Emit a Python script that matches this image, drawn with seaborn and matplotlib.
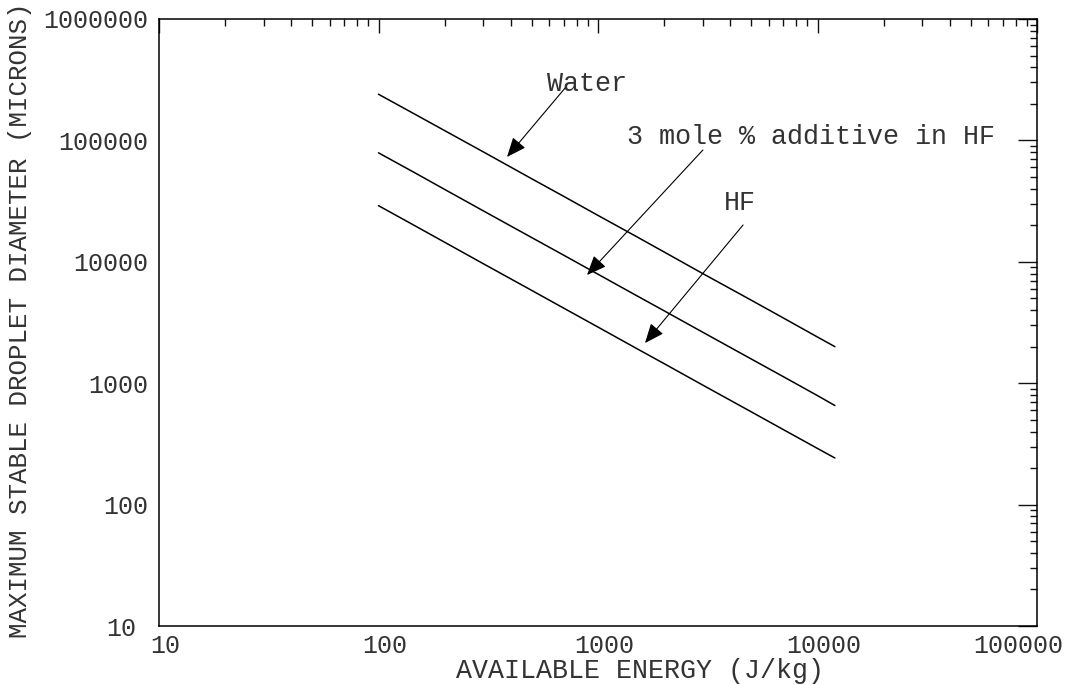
import numpy as np
import pandas as pd
import seaborn as sns
import matplotlib
matplotlib.use("Agg")
import matplotlib.pyplot as plt
from matplotlib.ticker import LogLocator, FixedLocator, NullFormatter
from matplotlib.transforms import ScaledTranslation

# Available energy (J/kg) and maximum stable droplet diameter (microns)
energy = [100, 150, 200, 300, 500, 700, 1000, 1500, 2000, 3000, 5000, 7000, 10000, 12000]
water = [240000, 160500, 120500, 80500, 48200, 34500, 24100, 16100, 12050, 8000, 4820, 3440, 2400, 2000]
additive = [79000, 52800, 39500, 26300, 15800, 11300, 7900, 5260, 3950, 2630, 1580, 1130, 790, 655]
hf = [29000, 19350, 14500, 9650, 5800, 4140, 2900, 1930, 1450, 965, 580, 414, 290, 242]

series_names = ["Water", "3 mole % additive in HF", "HF"]

x_ticks = [10, 100, 1000, 10000, 100000]
y_ticks = [10, 100, 1000, 10000, 100000, 1000000]
x_tick_labels = ["10", "100", "1000", "10000", "100000"]
y_tick_labels = ["10", "100", "1000", "10000", "100000", "1000000"]

df = pd.DataFrame({
    "energy": energy * 3,
    "diameter": water + additive + hf,
    "fluid": [series_names[0]] * len(energy) + [series_names[1]] * len(energy) + [series_names[2]] * len(energy),
})

sns.set_theme(style="white")
mono = ["Liberation Mono", "DejaVu Sans Mono"]
plt.rcParams["font.family"] = mono
plt.rcParams["text.color"] = "#333333"
plt.rcParams["axes.labelcolor"] = "#333333"
plt.rcParams["xtick.color"] = "#111111"
plt.rcParams["ytick.color"] = "#111111"
plt.rcParams["xtick.labelcolor"] = "#333333"
plt.rcParams["ytick.labelcolor"] = "#333333"

TICK_FS = 18.0
NOTE_FS = 19.3

fig = plt.figure(figsize=(10.70, 6.84), dpi=100)
ax = fig.add_axes([159 / 1070, 1 - 626 / 684, (1037 - 159) / 1070, (626 - 19) / 684])

sns.lineplot(data=df, x="energy", y="diameter", hue="fluid",
             palette=["black", "black", "black"], linewidth=1.1,
             legend=False, ax=ax, estimator=None, sort=True)

ax.set_xscale("log")
ax.set_yscale("log")
ax.set_xlim(10, 100000)
ax.set_ylim(10, 1000000)

for side in ["left", "right", "top", "bottom"]:
    ax.spines[side].set_visible(True)
    ax.spines[side].set_color("black")
    ax.spines[side].set_linewidth(1.1)

ax.xaxis.set_major_locator(FixedLocator(x_ticks))
ax.yaxis.set_major_locator(FixedLocator(y_ticks))
ax.set_xticklabels(x_tick_labels)
ax.set_yticklabels(y_tick_labels)
ax.xaxis.set_minor_locator(LogLocator(base=10, subs=np.arange(2, 10), numticks=20))
ax.yaxis.set_minor_locator(LogLocator(base=10, subs=np.arange(2, 10), numticks=20))
ax.xaxis.set_minor_formatter(NullFormatter())
ax.yaxis.set_minor_formatter(NullFormatter())

ax.tick_params(axis="both", which="both", direction="in", top=True, right=True,
               labelsize=TICK_FS, width=1.0)
ax.tick_params(axis="x", which="major", length=10, pad=5.5)
ax.tick_params(axis="y", which="major", length=14, pad=8)
ax.tick_params(axis="both", which="minor", length=5)

# x labels sit a little right of their ticks; the last one is pulled inside the figure
xl = ax.get_xticklabels()
for lab in xl[:-1]:
    lab.set_transform(lab.get_transform() + ScaledTranslation(6 / 100, 0, fig.dpi_scale_trans))
xl[-1].set_horizontalalignment("right")
xl[-1].set_transform(xl[-1].get_transform() + ScaledTranslation(26 / 100, 0, fig.dpi_scale_trans))
yl = ax.get_yticklabels()
yl[0].set_transform(yl[0].get_transform() + ScaledTranslation(-12 / 100, 0, fig.dpi_scale_trans))

ax.set_xlabel("AVAILABLE ENERGY (J/kg)", fontsize=19.2)
ax.set_ylabel("MAXIMUM STABLE DROPLET DIAMETER (MICRONS)", fontsize=18.6)
ax.xaxis.set_label_coords(0.548, -0.0745)
ax.xaxis.label.set_va("center")
ax.yaxis.set_label_coords(-0.158, 0.504)
ax.yaxis.label.set_va("center")

arrow_kw = dict(arrowstyle="-|>,head_length=1.2,head_width=0.5", color="black",
                lw=0.8, shrinkA=0, shrinkB=0, mutation_scale=10)

ax.text(586, 292000, "Water", fontsize=NOTE_FS, va="center", ha="left")
ax.annotate("", xy=(385, 73000), xytext=(708, 270000), arrowprops=arrow_kw)

ax.text(1355, 106600, "3 mole % additive in HF", fontsize=NOTE_FS, va="center", ha="left")
ax.annotate("", xy=(891, 7780), xytext=(3006, 83400), arrowprops=arrow_kw)

ax.text(3750, 30500, "HF", fontsize=NOTE_FS, va="center", ha="left")
ax.annotate("", xy=(1637, 2140), xytext=(4580, 20100), arrowprops=arrow_kw)

fig.savefig("out.png", dpi=100)
